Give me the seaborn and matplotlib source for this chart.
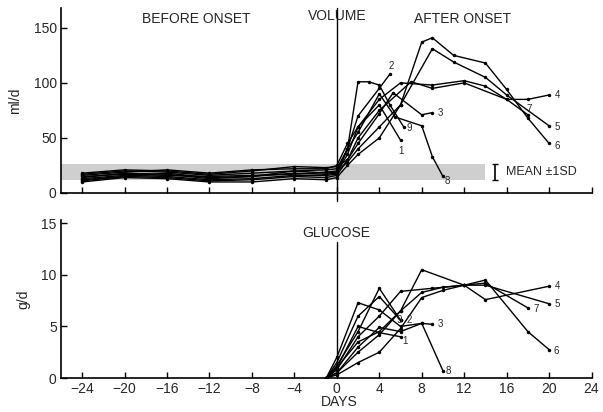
import numpy as np
import pandas as pd
import matplotlib
matplotlib.use("Agg")
import matplotlib.pyplot as plt
import seaborn as sns

# ---------------- data ----------------
patients = ["1", "2", "3", "4", "5", "6", "7", "8", "9"]
pre_days = [-24, -20, -16, -12, -8, -4, -1, 0]

vol_pre_1 = [14, 18, 17, 13, 15, 18, 17, 18]
vol_pre_2 = [17, 20, 19, 16, 18, 20, 21, 22]
vol_pre_3 = [12, 15, 14, 11, 12, 15, 14, 16]
vol_pre_4 = [18, 21, 20, 17, 20, 24, 23, 24]
vol_pre_5 = [15, 17, 16, 15, 16, 17, 19, 20]
vol_pre_6 = [10, 14, 13, 10, 10, 13, 12, 14]
vol_pre_7 = [16, 19, 21, 18, 21, 22, 22, 25]
vol_pre_8 = [13, 16, 15, 12, 13, 16, 16, 17]
vol_pre_9 = [11, 15, 18, 14, 15, 20, 18, 19]

vol_post_days_1 = [1, 2, 4, 6]
vol_post_1 = [35, 60, 80, 48]
vol_post_days_2 = [1, 2, 4, 5]
vol_post_2 = [40, 70, 95, 108]
vol_post_days_3 = [1, 2, 4, 5.3, 8, 9]
vol_post_3 = [30, 45, 72, 91, 71, 73]
vol_post_days_4 = [1, 2, 4, 7, 9, 12, 16, 18, 20]
vol_post_4 = [30, 50, 75, 101, 95, 100, 85, 85, 89]
vol_post_days_5 = [1, 2, 4, 6, 9, 11, 14, 16, 20]
vol_post_5 = [28, 40, 60, 80, 131, 119, 105, 89, 61]
vol_post_days_6 = [1, 2, 4, 6, 8, 9, 11, 14, 16, 18, 20]
vol_post_6 = [25, 35, 50, 80, 137, 141, 125, 118, 94, 68, 45]
vol_post_days_7 = [1, 2, 4, 6, 9, 12, 14, 16, 18]
vol_post_7 = [45, 60, 85, 100, 98, 102, 97, 85, 71]
vol_post_days_8 = [1, 2, 4, 5.5, 8, 9, 10]
vol_post_8 = [40, 55, 90, 69, 61, 33, 15]
vol_post_days_9 = [1, 2, 3, 4, 5, 6.3]
vol_post_9 = [40, 101, 101, 98, 80, 60]

glu_days_1 = [-1, 0, 2, 4, 6]
glu_1 = [0, 1.0, 5.0, 4.4, 4.0]
glu_days_2 = [-1, 0, 2, 4, 6]
glu_2 = [0, 1.5, 6.0, 7.9, 5.6]
glu_days_3 = [-1, 0, 2, 4, 6, 8, 9]
glu_3 = [0, 0.5, 3.0, 4.9, 4.5, 5.3, 5.2]
glu_days_4 = [-1, 0, 2, 4, 6, 8, 10, 12, 14, 20]
glu_4 = [0, 0.5, 2.5, 4.2, 6.5, 8.3, 8.8, 9.0, 7.6, 8.9]
glu_days_5 = [-1, 0, 2, 4, 6, 8, 10, 12, 14, 20]
glu_5 = [0, 0.3, 1.5, 2.5, 4.8, 7.8, 8.5, 9.0, 9.0, 7.2]
glu_days_6 = [-1, 0, 2, 4, 6, 9, 12, 14, 18, 20]
glu_6 = [0, 0.8, 4.0, 6.0, 8.4, 8.7, 9.0, 9.5, 4.5, 2.75]
glu_days_7 = [-1, 0, 2, 4, 6, 8, 12, 14, 18]
glu_7 = [0, 1.0, 3.5, 4.5, 6.5, 10.5, 9.0, 9.2, 6.8]
glu_days_8 = [-1, 0, 2, 4, 6, 8, 10]
glu_8 = [0, 2.0, 7.3, 6.6, 5.0, 5.3, 0.7]
glu_days_9 = [-1, 0, 2, 4, 6]
glu_9 = [0, 1.2, 4.5, 8.7, 5.6]

band_mean = 19
band_sd = 7
band_days = [-26, 14]

x_ticks = [-24, -20, -16, -12, -8, -4, 0, 4, 8, 12, 16, 20, 24]
vol_ticks = [0, 50, 100, 150]
glu_ticks = [0, 5, 10, 15]

# ---------------- build frames ----------------
vol_pre = [vol_pre_1, vol_pre_2, vol_pre_3, vol_pre_4, vol_pre_5,
           vol_pre_6, vol_pre_7, vol_pre_8, vol_pre_9]
vol_pd = [vol_post_days_1, vol_post_days_2, vol_post_days_3, vol_post_days_4,
          vol_post_days_5, vol_post_days_6, vol_post_days_7, vol_post_days_8,
          vol_post_days_9]
vol_pv = [vol_post_1, vol_post_2, vol_post_3, vol_post_4, vol_post_5,
          vol_post_6, vol_post_7, vol_post_8, vol_post_9]
glu_d = [glu_days_1, glu_days_2, glu_days_3, glu_days_4, glu_days_5,
         glu_days_6, glu_days_7, glu_days_8, glu_days_9]
glu_v = [glu_1, glu_2, glu_3, glu_4, glu_5, glu_6, glu_7, glu_8, glu_9]

rows_v, rows_g = [], []
for i, p in enumerate(patients):
    for d, v in zip(pre_days + vol_pd[i], vol_pre[i] + vol_pv[i]):
        rows_v.append(dict(patient=p, day=d, value=v))
    for d, v in zip(glu_d[i], glu_v[i]):
        rows_g.append(dict(patient=p, day=d, value=v))
dfv = pd.DataFrame(rows_v)
dfg = pd.DataFrame(rows_g)

# ---------------- plot ----------------
sns.set_theme(style="ticks")
plt.rcParams['font.family'] = ['Liberation Sans', 'DejaVu Sans']

fig = plt.figure(figsize=(6.03, 4.12), dpi=100)
ax1 = fig.add_axes([0.101, 0.5316, 0.880, 0.449])
ax2 = fig.add_axes([0.101, 0.0825, 0.880, 0.383])

line_kw = dict(x="day", y="value", units="patient", estimator=None, sort=False,
               color="black", linewidth=1.0, marker="o", markersize=2.5,
               markeredgewidth=0, legend=False)

ax1.fill_between(band_days, band_mean - band_sd, band_mean + band_sd,
                 color="#cfcfcf", linewidth=0, zorder=0)
sns.lineplot(data=dfv, ax=ax1, **line_kw)
sns.lineplot(data=dfg, ax=ax2, **line_kw)

for ax, ylim, yt in [(ax1, (0, 168), vol_ticks), (ax2, (0, 15.3), glu_ticks)]:
    ax.set_xlim(-26, 24)
    ax.set_ylim(*ylim)
    ax.set_xticks(x_ticks)
    ax.set_yticks(yt)
    ax.tick_params(direction="in", length=4, width=1, color="black",
                   labelsize=10, pad=3)
    for s in ["top", "right"]:
        ax.spines[s].set_visible(False)
    for s in ["left", "bottom"]:
        ax.spines[s].set_linewidth(1.2)
        ax.spines[s].set_color("black")
    ax.set_xlabel("")
    ax.set_ylabel("")

ax1.set_xticklabels([])
ax2.set_xticklabels([str(t) if t >= 0 else "\u2212" + str(-t) for t in x_ticks])

# onset lines
ax1.plot([0, 0], [-7, 168], color="black", lw=1.0, clip_on=False, zorder=5)
ax2.plot([0, 0], [0, 13.2], color="black", lw=1.0, clip_on=False, zorder=5)

# mean +-1SD marker
ax1.errorbar([14.9], [band_mean], yerr=[band_sd], fmt="none", ecolor="black",
             elinewidth=1.2, capsize=2.5, capthick=1.0)
ax1.text(15.9, band_mean, "MEAN \u00b11SD", fontsize=9, va="center", ha="left")

# header texts
ax1.text(-13.2, 158, "BEFORE ONSET", fontsize=10, ha="center", va="center")
ax1.text(0, 161, "VOLUME", fontsize=10, ha="center", va="center")
ax1.text(11.8, 158, "AFTER ONSET", fontsize=10, ha="center", va="center")
ax2.text(-0.1, 14.1, "GLUCOSE", fontsize=10, ha="center", va="center")
fig.text(0.562, 0.024, "DAYS", fontsize=10, ha="center", va="center")
ax1.set_ylabel("ml/d", fontsize=10, labelpad=8)
ax2.set_ylabel("g/d", fontsize=10, labelpad=8)

# series labels (offsets in points)
vol_label_offsets = {"1": (0, -8), "2": (1, 6), "3": (6, 0), "4": (6, 0),
                     "5": (6, -1), "6": (6, -2), "7": (1, 4), "8": (3, -3),
                     "9": (4, -1)}
glu_label_offsets = {"1": (3, -3), "2": (6, 0), "3": (6, 0), "4": (6, 0),
                     "5": (6, 0), "6": (5, -1), "7": (6, -1), "8": (4, 0),
                     "9": (-1, 0)}
for i, p in enumerate(patients):
    dx, dy = vol_label_offsets[p]
    if p == "2":
        j = int(np.argmax(vol_pv[i]))
        xx, yy = vol_pd[i][j], vol_pv[i][j]
    else:
        xx, yy = vol_pd[i][-1], vol_pv[i][-1]
    ax1.annotate(p, (xx, yy), xytext=(dx, dy), textcoords="offset points",
                 fontsize=7, ha="center", va="center")
    dx, dy = glu_label_offsets[p]
    ax2.annotate(p, (glu_d[i][-1], glu_v[i][-1]), xytext=(dx, dy),
                 textcoords="offset points", fontsize=7, ha="center", va="center")

fig.savefig("out.png", dpi=100)
